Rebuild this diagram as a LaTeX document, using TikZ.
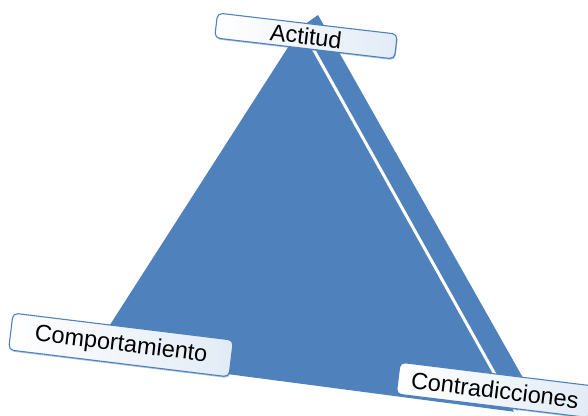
\documentclass[tikz,border=0pt]{standalone}
\usepackage{fontspec}
\setmainfont{Liberation Sans}
\usepackage{xcolor}
\usetikzlibrary{shadows}
\definecolor{facecol}{RGB}{79,129,189}
\definecolor{boxlight}{RGB}{226,235,246}

\begin{document}
\begin{tikzpicture}[x=1pt, y=-1pt, face/.style={fill=facecol, draw=none}, box/.style={rectangle, draw=facecol, line width=1.1pt, rounded corners=5pt, left color=white, right color=boxlight, inner sep=0pt, font=\fontsize{23.5}{28}\selectfont, drop shadow={opacity=0.45, fill=facecol, shadow xshift=0.8pt, shadow yshift=-1.4pt}}]
\useasboundingbox (0,0) rectangle (588,415);
% corners of the pyramid
\coordinate (top) at (318,15);
\coordinate (ftop) at (301,27);
\coordinate (left) at (90,356);
\coordinate (fright) at (516,412);
\coordinate (back) at (531,392);
\fill[face] (top) -- (back) -- (fright) -- (ftop) -- cycle;
\fill[face] (ftop) -- (left) -- (fright) -- cycle;
\draw[white, line width=3pt] (ftop) -- (fright);
% labels
\node[box, minimum width=181pt, minimum height=25pt, rotate=-6.7] (act) at (306,36) {Actitud};
\node[box, minimum width=222pt, minimum height=37pt, rotate=-7] (comp) at (121,345) {Comportamiento};
\node[box, minimum width=195pt, minimum height=32pt, rotate=-7] (contr) at (495,390) {Contradicciones};
\end{tikzpicture}
\end{document}
